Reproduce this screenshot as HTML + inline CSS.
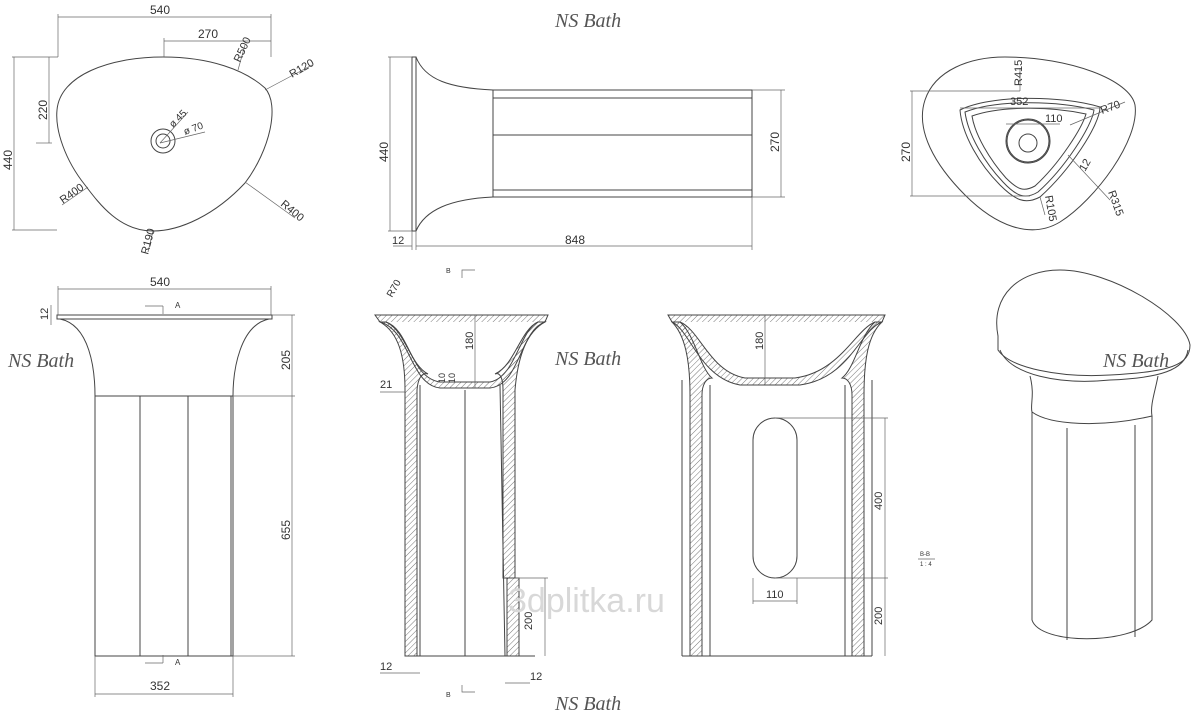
<!DOCTYPE html><html><head><style>body{margin:0;background:#fff}svg{display:block}text{font-family:"Liberation Sans",sans-serif;fill:#333}.s{fill:none;stroke:#444;stroke-width:1}.t{stroke:#666;stroke-width:.7;fill:none}.w{font-family:"Liberation Serif",serif;font-style:italic;font-size:20px;fill:#555}</style></head><body>
<svg width="1200" height="723" viewBox="0 0 1200 723">
<defs><pattern id="h" width="4" height="4" patternUnits="userSpaceOnUse" patternTransform="rotate(45)"><line x1="0" y1="0" x2="0" y2="4" stroke="#555" stroke-width="0.8"/></pattern></defs>
<text x="555" y="27" class="w">NS Bath</text>
<!-- top left plan -->
<path class="s" d="M163,57 C210,57 245,70 265,88 C280,105 270,150 245,183 C215,215 180,231 153,231 C120,231 100,205 85,185 C65,160 55,130 57,110 C60,75 110,57 163,57 Z"/>
<circle class="s" cx="163" cy="141" r="12"/><circle class="s" cx="163" cy="141" r="7"/>
<g class="t"><line x1="58" y1="17" x2="271" y2="17"/><line x1="58" y1="14" x2="58" y2="57"/><line x1="271" y1="14" x2="271" y2="57"/><line x1="164" y1="41" x2="271" y2="41"/><line x1="164" y1="38" x2="164" y2="57"/><line x1="12" y1="57" x2="58" y2="57"/><line x1="14" y1="57" x2="14" y2="230"/><line x1="12" y1="230" x2="57" y2="230"/><line x1="49" y1="57" x2="49" y2="143"/><line x1="36" y1="143" x2="52" y2="143"/><line x1="265" y1="90" x2="312" y2="65"/><line x1="238" y1="70" x2="245" y2="45"/><line x1="160" y1="143" x2="188" y2="112"/><line x1="160" y1="143" x2="205" y2="132"/><line x1="88" y1="187" x2="62" y2="205"/><line x1="245" y1="182" x2="295" y2="218"/><line x1="153" y1="231" x2="148" y2="252"/></g>
<text x="150" y="14" font-size="12">540</text><text x="198" y="38" font-size="12">270</text>
<text transform="translate(12,170) rotate(-90)" font-size="12">440</text><text transform="translate(47,120) rotate(-90)" font-size="12">220</text>
<text transform="translate(240,63) rotate(-65)" font-size="11">R500</text><text transform="translate(292,78) rotate(-30)" font-size="11">R120</text>
<text transform="translate(173,128) rotate(-45)" font-size="10">ø 45</text><text transform="translate(185,135) rotate(-20)" font-size="10">ø 70</text>
<text transform="translate(63,204) rotate(-35)" font-size="11">R400</text><text transform="translate(280,205) rotate(40)" font-size="11">R400</text><text transform="translate(148,255) rotate(-75)" font-size="11">R190</text>
<!-- top middle side -->
<g class="s"><rect x="412" y="57" width="4" height="174"/><path d="M416,57 C425,80 450,88 493,90 L752,90 L752,197 L493,197 C450,199 425,210 416,231"/><line x1="493" y1="90" x2="493" y2="197"/><line x1="493" y1="98" x2="752" y2="98"/><line x1="493" y1="135" x2="752" y2="135"/><line x1="493" y1="190" x2="752" y2="190"/></g>
<g class="t"><line x1="390" y1="57" x2="390" y2="231"/><line x1="388" y1="57" x2="412" y2="57"/><line x1="388" y1="231" x2="412" y2="231"/><line x1="781" y1="90" x2="781" y2="197"/><line x1="752" y1="90" x2="785" y2="90"/><line x1="752" y1="197" x2="785" y2="197"/><line x1="416" y1="246" x2="752" y2="246"/><line x1="412" y1="231" x2="412" y2="250"/><line x1="416" y1="231" x2="416" y2="250"/><line x1="752" y1="197" x2="752" y2="250"/><line x1="393" y1="246" x2="412" y2="246"/></g>
<text transform="translate(388,162) rotate(-90)" font-size="12">440</text><text transform="translate(779,152) rotate(-90)" font-size="12">270</text><text x="565" y="244" font-size="12">848</text><text x="392" y="244" font-size="11">12</text>
<!-- top right plan -->
<path class="s" d="M1005,57 C1070,57 1130,80 1135,105 C1140,140 1095,200 1060,222 C1030,240 995,225 965,195 C935,165 915,130 925,100 C935,70 970,57 1005,57 Z"/>
<path class="s" d="M960,110 C990,95 1060,95 1100,107 C1100,125 1070,170 1040,197 C1025,205 1015,200 1000,185 C980,165 962,135 960,110 Z"/>
<path class="s" d="M965,112 C995,100 1055,100 1094,110 C1092,126 1065,168 1038,192 C1025,200 1016,196 1003,182 C985,163 968,135 965,112 Z"/>
<path class="s" d="M972,116 C1000,106 1050,106 1086,114 C1082,128 1060,163 1035,186 C1024,192 1018,190 1006,178 C990,160 975,135 972,116 Z"/>
<circle class="s" cx="1028" cy="141" r="22"/><circle class="s" cx="1028" cy="141" r="21"/><circle class="s" cx="1028" cy="143" r="9"/>
<g class="t"><line x1="912" y1="91" x2="912" y2="196"/><line x1="910" y1="91" x2="1020" y2="91"/><line x1="910" y1="196" x2="1030" y2="196"/><line x1="960" y1="108" x2="1100" y2="108"/><line x1="1006" y1="124" x2="1060" y2="124"/><line x1="1020" y1="68" x2="1020" y2="91"/><line x1="1070" y1="125" x2="1125" y2="102"/><line x1="1068" y1="155" x2="1110" y2="200"/><line x1="1040" y1="197" x2="1045" y2="215"/></g>
<text transform="translate(910,162) rotate(-90)" font-size="12">270</text><text x="1010" y="105" font-size="11">352</text><text x="1045" y="122" font-size="11">110</text>
<text transform="translate(1022,86) rotate(-90)" font-size="11">R415</text><text transform="translate(1102,114) rotate(-20)" font-size="11">R70</text><text transform="translate(1085,172) rotate(-60)" font-size="11">12</text><text transform="translate(1108,192) rotate(70)" font-size="11">R315</text><text transform="translate(1045,196) rotate(80)" font-size="11">R105</text>
<!-- bottom left front -->
<text x="8" y="367" class="w">NS Bath</text>
<g class="s"><rect x="57" y="315" width="215" height="4"/><path d="M60,319 C90,325 95,370 95,396"/><path d="M269,319 C240,325 233,370 233,396"/><rect x="95" y="396" width="138" height="260"/><line x1="140" y1="396" x2="140" y2="656"/><line x1="188" y1="396" x2="188" y2="656"/><line x1="231" y1="396" x2="231" y2="656"/></g>
<g class="t"><line x1="58" y1="289" x2="271" y2="289"/><line x1="58" y1="286" x2="58" y2="315"/><line x1="271" y1="286" x2="271" y2="315"/><line x1="292" y1="315" x2="292" y2="656"/><line x1="272" y1="315" x2="295" y2="315"/><line x1="233" y1="396" x2="295" y2="396"/><line x1="233" y1="656" x2="295" y2="656"/><line x1="95" y1="656" x2="95" y2="697"/><line x1="233" y1="656" x2="233" y2="697"/><line x1="95" y1="694" x2="233" y2="694"/><line x1="51" y1="305" x2="51" y2="325"/><line x1="163" y1="306" x2="163" y2="314"/><line x1="145" y1="306" x2="163" y2="306"/><line x1="163" y1="655" x2="163" y2="663"/><line x1="145" y1="663" x2="163" y2="663"/></g>
<text x="150" y="286" font-size="12">540</text><text x="150" y="690" font-size="12">352</text><text x="175" y="308" font-size="8">A</text><text x="175" y="665" font-size="8">A</text>
<text transform="translate(290,370) rotate(-90)" font-size="12">205</text><text transform="translate(290,540) rotate(-90)" font-size="12">655</text><text transform="translate(48,320) rotate(-90)" font-size="11">12</text>
<!-- section B-B left -->
<text x="446" y="273" font-size="7">B</text><path class="t" d="M462,278 L462,270 L475,270"/><text x="446" y="697" font-size="7">B</text><path class="t" d="M462,685 L462,692 L475,692"/>
<g class="s">
<path d="M375,315 L548,315 L545,322 C520,330 520,385 490,388 L440,388 C410,385 410,330 380,322 Z" fill="url(#h)"/>
<path d="M386,322 C410,330 410,378 440,382 L490,382 C515,378 520,330 538,322" fill="#fff"/>
<path d="M380,322 C398,332 405,355 405,390 L405,656 L417,656 L417,390 C418,378 422,372 428,374 C410,365 405,330 386,322 Z" fill="url(#h)"/>
<path d="M545,322 C527,332 518,355 515,390 L515,578 L503,578 L503,390 C503,378 500,372 495,374 C515,365 520,330 538,322 Z" fill="url(#h)"/>
<rect x="507" y="578" width="12" height="78" fill="url(#h)"/>
<line x1="420" y1="385" x2="420" y2="656"/><line x1="500" y1="385" x2="505" y2="656"/><line x1="465" y1="390" x2="465" y2="656"/><line x1="405" y1="656" x2="535" y2="656"/></g>
<line class="t" x1="475" y1="315" x2="475" y2="388"/><line class="t" x1="545" y1="578" x2="545" y2="656"/><line class="t" x1="515" y1="578" x2="548" y2="578"/><line class="t" x1="380" y1="392" x2="405" y2="392"/><line class="t" x1="380" y1="673" x2="420" y2="673"/><line class="t" x1="505" y1="683" x2="530" y2="683"/>
<text transform="translate(473,350) rotate(-90)" font-size="11">180</text><text transform="translate(532,630) rotate(-90)" font-size="11">200</text><text x="380" y="388" font-size="11">21</text><text x="380" y="670" font-size="11">12</text><text x="530" y="680" font-size="11">12</text><text transform="translate(392,298) rotate(-60)" font-size="10">R70</text><text transform="translate(445,383) rotate(-90)" font-size="9">10</text><text transform="translate(455,383) rotate(-90)" font-size="9">10</text>
<text x="555" y="365" class="w">NS Bath</text>
<text x="508" y="612" font-size="34" style="fill:#d8d8d8">3dplitka.ru</text>
<!-- section right -->
<g class="s">
<path d="M668,315 L885,315 L882,322 C860,330 850,378 800,385 L740,385 C700,378 690,330 672,322 Z" fill="url(#h)"/>
<path d="M680,322 C700,330 710,372 745,378 L795,378 C840,372 855,330 875,322" fill="#fff"/>
<path d="M672,322 C685,335 690,360 690,395 L690,656 L702,656 L702,395 C702,385 706,378 712,378 C700,368 695,335 680,322 Z" fill="url(#h)"/>
<path d="M882,322 C868,335 864,360 864,395 L864,656 L852,656 L852,395 C852,385 848,378 842,378 C855,368 860,335 875,322 Z" fill="url(#h)"/>
<line x1="682" y1="380" x2="682" y2="656"/><line x1="872" y1="380" x2="872" y2="656"/><line x1="682" y1="656" x2="872" y2="656"/><line x1="710" y1="385" x2="710" y2="656"/><line x1="845" y1="385" x2="845" y2="656"/><rect x="753" y="418" width="44" height="160" rx="22"/></g>
<g class="t"><line x1="765" y1="315" x2="765" y2="385"/><line x1="775" y1="418" x2="888" y2="418"/><line x1="775" y1="578" x2="888" y2="578"/><line x1="885" y1="418" x2="885" y2="656"/><line x1="753" y1="578" x2="753" y2="604"/><line x1="797" y1="578" x2="797" y2="604"/><line x1="753" y1="601" x2="797" y2="601"/></g>
<text transform="translate(763,350) rotate(-90)" font-size="11">180</text><text transform="translate(882,510) rotate(-90)" font-size="11">400</text><text transform="translate(882,625) rotate(-90)" font-size="11">200</text><text x="766" y="598" font-size="11">110</text>
<text x="920" y="556" font-size="6">B-B</text><line class="t" x1="918" y1="559" x2="935" y2="559"/><text x="920" y="566" font-size="6">1 : 4</text>
<text x="555" y="710" class="w">NS Bath</text>
<!-- 3D -->
<g class="s"><path d="M998,336 C990,295 1020,270 1060,270 C1110,270 1185,315 1190,345 C1190,365 1170,372 1110,375 C1060,378 1010,368 998,350 Z"/><path d="M1000,350 C1010,375 1060,385 1110,380 C1160,378 1185,370 1188,350"/><path d="M1030,376 C1035,395 1030,405 1032,412 C1050,425 1100,428 1152,416 C1150,405 1155,392 1158,376"/><path d="M1032,412 L1032,620 C1040,645 1130,645 1152,620 L1152,416"/><line x1="1067" y1="428" x2="1067" y2="640"/><line x1="1135" y1="425" x2="1135" y2="637"/></g>
<text x="1103" y="367" class="w">NS Bath</text>
</svg></body></html>
